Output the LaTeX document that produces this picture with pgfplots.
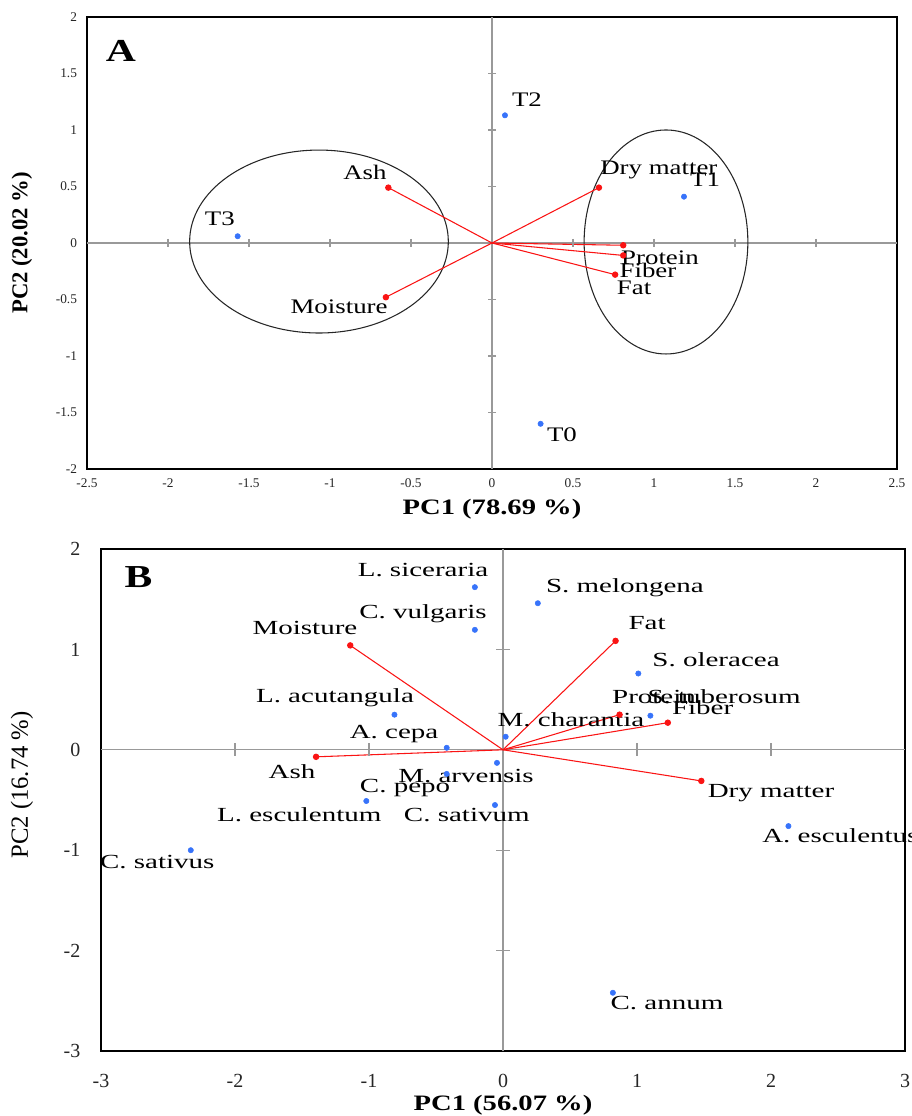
\documentclass[border=0pt]{standalone}
\usepackage{pgfplots}
\pgfplotsset{compat=1.18}
\usepackage{fontspec}
\setmainfont{Liberation Serif}
\usepackage{graphicx}
\definecolor{ptblue}{RGB}{55,115,250}
\definecolor{vred}{RGB}{250,20,20}
\newcommand\La[1]{\scalebox{1.3}[1]{#1}}
\newcommand\Lb[1]{\scalebox{1.45}[1]{#1}}
\begin{document}
\begin{tikzpicture}
\clip (0,0) rectangle (684pt,-837pt);
\useasboundingbox (0,0) rectangle (684pt,-837pt);
% ---------------- Panel A ----------------
\begin{axis}[
 at={(65.25pt,-12.75pt)}, anchor=north west,
 scale only axis, width=607.5pt, height=339pt,
 xmin=-2.5, xmax=2.5, ymin=-2, ymax=2,
 xtick={-2.5,-2,-1.5,-1,-0.5,0,0.5,1,1.5,2,2.5},
 ytick={-2,-1.5,-1,-0.5,0,0.5,1,1.5,2},
 major tick length=0pt,
 axis line style={line width=1.5pt, black},
 tick label style={font=\fontsize{10}{12}\selectfont, text=black!85},
 /pgf/number format/assume math mode=true,
 xticklabel style={yshift=-4pt},
 yticklabel style={xshift=-4pt},
 xlabel={\La{\bfseries PC1 (78.69 \%)}},
 ylabel={\bfseries PC2 (20.02 \%)},
 xlabel style={at={(axis description cs:0.5,-0.0885)}, anchor=center, font=\fontsize{16.5}{20}\selectfont},
 ylabel style={at={(axis description cs:-0.0802,0.5)}, anchor=center, font=\fontsize{17}{20}\selectfont},
 clip=false,
]
\addplot[gray!80, line width=0.9pt] coordinates {(-2.5,0) (2.5,0)};
\addplot[gray!80, line width=0.9pt] coordinates {(0,-2) (0,2)};
\addplot[only marks, mark=|, mark size=3pt, gray!80, mark options={line width=0.8pt}] coordinates {(-2,0) (-1.5,0) (-1,0) (-0.5,0) (0.5,0) (1,0) (1.5,0) (2,0)};
\addplot[only marks, mark=-, mark size=3pt, gray!80, mark options={line width=0.8pt}] coordinates {(0,-1.5) (0,-1) (0,-0.5) (0,0.5) (0,1) (0,1.5)};
% ellipses
\draw[black!85, line width=0.8pt] (axis cs:-1.068,0.013) ellipse [x radius=97pt, y radius=68.6pt];
\draw[black!85, line width=0.8pt] (axis cs:1.074,0.009) ellipse [x radius=61.4pt, y radius=84pt];
% loadings
\addplot[vred, line width=0.8pt, mark=*, mark size=2pt, mark indices={2}] coordinates {(0,0) (-0.64,0.49)};
\addplot[vred, line width=0.8pt, mark=*, mark size=2pt, mark indices={2}] coordinates {(0,0) (-0.655,-0.48)};
\addplot[vred, line width=0.8pt, mark=*, mark size=2pt, mark indices={2}] coordinates {(0,0) (0.66,0.49)};
\addplot[vred, line width=0.8pt, mark=*, mark size=2pt, mark indices={2}] coordinates {(0,0) (0.81,-0.02)};
\addplot[vred, line width=0.8pt, mark=*, mark size=2pt, mark indices={2}] coordinates {(0,0) (0.81,-0.11)};
\addplot[vred, line width=0.8pt, mark=*, mark size=2pt, mark indices={2}] coordinates {(0,0) (0.76,-0.28)};
% scores
\addplot[only marks, mark=*, mark size=2pt, ptblue] coordinates {(0.08,1.13) (1.185,0.41) (-1.57,0.06) (0.30,-1.60)};
\begin{scope}[font=\fontsize{15.5}{18}\selectfont]
\node at (axis cs:0.216,1.265) {\La{T2}};
\node at (axis cs:1.03,0.646) {\La{Dry matter}};
\node at (axis cs:1.315,0.558) {\La{T1}};
\node at (axis cs:-1.68,0.212) {\La{T3}};
\node at (axis cs:-0.784,0.628) {\La{Ash}};
\node at (axis cs:-0.944,-0.566) {\La{Moisture}};
\node at (axis cs:1.037,-0.133) {\La{Protein}};
\node at (axis cs:0.963,-0.239) {\La{Fiber}};
\node at (axis cs:0.877,-0.398) {\La{Fat}};
\node at (axis cs:0.432,-1.70) {\La{T0}};
\end{scope}
\node[font=\fontsize{24}{28}\selectfont\bfseries] at (axis cs:-2.29,1.70) {\La{A}};
\end{axis}
% ---------------- Panel B ----------------
\begin{axis}[
 at={(75.75pt,-411.75pt)}, anchor=north west,
 scale only axis, width=603pt, height=376.5pt,
 xmin=-3, xmax=3, ymin=-3, ymax=2,
 xtick={-3,-2,-1,0,1,2,3},
 ytick={-3,-2,-1,0,1,2},
 major tick length=0pt,
 axis line style={line width=1.5pt, black},
 tick label style={font=\fontsize{15}{18}\selectfont, text=black!85},
 /pgf/number format/assume math mode=true,
 xticklabel style={yshift=-14pt},
 yticklabel style={xshift=-12pt},
 xlabel={\La{\bfseries PC1 (56.07 \%)}},
 ylabel={PC2 (16.74 \%)},
 xlabel style={at={(axis description cs:0.5,-0.1076)}, anchor=center, font=\fontsize{16.5}{20}\selectfont},
 ylabel style={at={(axis description cs:-0.0983,0.53)}, anchor=center, font=\fontsize{18.5}{20}\selectfont},
 clip=false,
]
\addplot[gray!80, line width=0.9pt] coordinates {(-3,0) (3,0)};
\addplot[gray!80, line width=0.9pt] coordinates {(0,-3) (0,2)};
\addplot[only marks, mark=|, mark size=5pt, gray!80, mark options={line width=0.8pt}] coordinates {(-2,0) (-1,0) (1,0) (2,0)};
\addplot[only marks, mark=-, mark size=5pt, gray!80, mark options={line width=0.8pt}] coordinates {(0,-2) (0,-1) (0,1)};
% loadings
\addplot[vred, line width=0.8pt, mark=*, mark size=2pt, mark indices={2}] coordinates {(0,0) (-1.14,1.04)};
\addplot[vred, line width=0.8pt, mark=*, mark size=2pt, mark indices={2}] coordinates {(0,0) (-1.395,-0.07)};
\addplot[vred, line width=0.8pt, mark=*, mark size=2pt, mark indices={2}] coordinates {(0,0) (0.84,1.085)};
\addplot[vred, line width=0.8pt, mark=*, mark size=2pt, mark indices={2}] coordinates {(0,0) (0.87,0.35)};
\addplot[vred, line width=0.8pt, mark=*, mark size=2pt, mark indices={2}] coordinates {(0,0) (1.23,0.27)};
\addplot[vred, line width=0.8pt, mark=*, mark size=2pt, mark indices={2}] coordinates {(0,0) (1.48,-0.31)};
% scores
\addplot[only marks, mark=*, mark size=2pt, ptblue] coordinates {
 (-0.21,1.62) (0.26,1.46) (-0.21,1.195) (1.01,0.76) (1.10,0.34)
 (0.02,0.13) (-0.81,0.35) (-0.42,0.02) (-0.045,-0.13) (-0.42,-0.24)
 (-1.02,-0.51) (-0.06,-0.55) (-2.33,-1.0) (2.13,-0.76) (0.82,-2.42)};
\begin{scope}[font=\fontsize{15}{18}\selectfont]
\node at (axis cs:-0.597,1.793) {\Lb{L. siceraria}};
\node at (axis cs:0.91,1.614) {\Lb{S. melongena}};
\node at (axis cs:-0.597,1.355) {\Lb{C. vulgaris}};
\node at (axis cs:-1.478,1.215) {\Lb{Moisture}};
\node at (axis cs:1.075,1.265) {\Lb{Fat}};
\node at (axis cs:1.59,0.896) {\Lb{S. oleracea}};
\node at (axis cs:-1.254,0.518) {\Lb{L. acutangula}};
\node at (axis cs:1.65,0.528) {\Lb{S. tuberosum}};
\node at (axis cs:1.127,0.528) {\Lb{Protein}};
\node at (axis cs:1.49,0.418) {\Lb{Fiber}};
\node at (axis cs:0.507,0.30) {\Lb{M. charantia}};
\node at (axis cs:-0.813,0.16) {\Lb{A. cepa}};
\node at (axis cs:-1.575,-0.22) {\Lb{Ash}};
\node at (axis cs:-0.276,-0.26) {\Lb{M. arvensis}};
\node at (axis cs:-0.731,-0.38) {\Lb{C. pepo}};
\node at (axis cs:-1.52,-0.65) {\Lb{L. esculentum}};
\node at (axis cs:-0.27,-0.65) {\Lb{C. sativum}};
\node at (axis cs:2.0,-0.43) {\Lb{Dry matter}};
\node[anchor=west, inner sep=0pt] at (axis cs:1.933,-0.857) {\Lb{A. esculentus}};
\node at (axis cs:-2.58,-1.115) {\Lb{C. sativus}};
\node at (axis cs:1.224,-2.52) {\Lb{C. annum}};
\end{scope}
\node[font=\fontsize{24}{28}\selectfont\bfseries] at (axis cs:-2.72,1.72) {\La{B}};
\end{axis}
\end{tikzpicture}
\end{document}
